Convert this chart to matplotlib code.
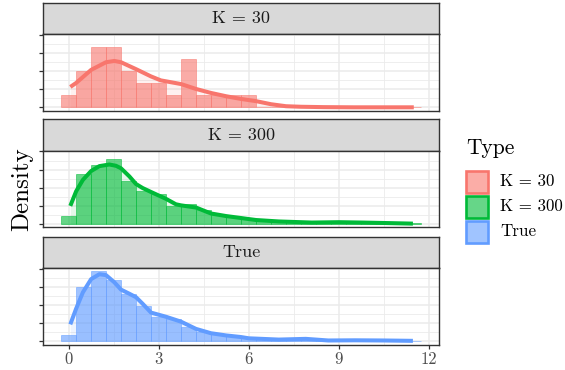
import matplotlib
matplotlib.use('Agg')
import matplotlib.pyplot as plt
from matplotlib.patches import Rectangle
import matplotlib.colors as mcolors

# ---------------- data ----------------
types = ['K = 30', 'K = 300', 'True']
colors = ['#F8766D', '#00BA38', '#619CFF']

bin_centers = [0.0, 0.5, 1.0, 1.5, 2.0, 2.5, 3.0, 3.5, 4.0, 4.5, 5.0, 5.5,
               6.0, 6.5, 7.0, 7.5, 8.0, 8.5, 9.0, 9.5, 10.0, 10.5, 11.0, 11.5]
bin_width = 0.5

hist_k30 = [0.067, 0.200, 0.333, 0.333, 0.200, 0.133, 0.133, 0.067, 0.267, 0.067, 0.067, 0.067,
            0.067, 0, 0, 0, 0, 0, 0, 0, 0, 0, 0, 0]
hist_k300 = [0.044, 0.276, 0.325, 0.357, 0.238, 0.184, 0.166, 0.099, 0.108, 0.079, 0.050, 0.039,
             0.026, 0.017, 0.012, 0.012, 0.008, 0.007, 0.009, 0.007, 0.006, 0.004, 0.003, 0.002]
hist_true = [0.032, 0.298, 0.385, 0.339, 0.258, 0.195, 0.135, 0.122, 0.080, 0.050, 0.039, 0.028,
             0.021, 0.016, 0.011, 0.010, 0.012, 0.006, 0.005, 0.005, 0.005, 0.004, 0.003, 0.002]

dens_k30_x = [0.05, 0.245, 0.745, 1.24, 1.52, 1.74, 2.24, 2.74, 3.07, 3.24, 3.74, 4.24, 4.74,
              5.24, 5.74, 6.24, 6.74, 7.24, 7.74, 8.5, 9.5, 10.5, 11.5]
dens_k30_y = [0.113, 0.135, 0.207, 0.249, 0.256, 0.249, 0.211, 0.171, 0.149, 0.144, 0.129, 0.102,
              0.080, 0.062, 0.047, 0.035, 0.018, 0.007, 0.004, 0.002, 0.001, 0.001, 0.001]

dens_k300_x = [0.05, 0.245, 0.47, 0.745, 1.02, 1.35, 1.57, 1.74, 2.02, 2.24, 2.46, 2.74, 3.24,
               3.57, 3.74, 4.24, 4.74, 5.24, 5.74, 6.24, 7.0, 8.1, 9.0, 9.77, 10.66, 11.47]
dens_k300_y = [0.099, 0.180, 0.243, 0.292, 0.319, 0.328, 0.321, 0.307, 0.262, 0.220, 0.198, 0.176,
               0.138, 0.108, 0.102, 0.090, 0.057, 0.043, 0.032, 0.021, 0.013, 0.007, 0.009, 0.007,
               0.004, 0.001]

dens_true_x = [0.05, 0.245, 0.47, 0.745, 1.02, 1.24, 1.52, 1.74, 2.02, 2.24, 2.46, 2.74, 3.24,
               3.74, 4.24, 4.74, 5.24, 5.74, 6.0, 7.0, 7.9, 8.65, 9.54, 10.5, 11.47]
dens_true_y = [0.093, 0.180, 0.270, 0.343, 0.370, 0.365, 0.325, 0.285, 0.262, 0.243, 0.207, 0.158,
               0.135, 0.108, 0.068, 0.044, 0.032, 0.023, 0.016, 0.009, 0.013, 0.004, 0.005, 0.004,
               0.002]

x_ticks = [0, 3, 6, 9, 12]
x_tick_labels = ['0', '3', '6', '9', '12']
y_ticks = [0.0, 0.1, 0.2, 0.3, 0.4]

hists = [hist_k30, hist_k300, hist_true]
dens = [(dens_k30_x, dens_k30_y), (dens_k300_x, dens_k300_y), (dens_true_x, dens_true_y)]

# ---------------- layout ----------------
plt.rcParams['font.family'] = 'cmr10'
plt.rcParams['axes.formatter.use_mathtext'] = True
plt.rcParams['mathtext.fontset'] = 'cm'

W, H = 565, 370
fig = plt.figure(figsize=(W / 100, H / 100), dpi=100)


def fx(px):
    return px / W


def fy(py):
    return 1 - py / H


left, right = 43.3, 439.3
rows = [(3.0, 34.0, 111.0), (119.3, 150.7, 227.3), (236.7, 268.0, 344.7)]
border = '#333333'

for i, (st, sb, pb) in enumerate(rows):
    # strip
    sax = fig.add_axes([fx(left), fy(sb), (right - left) / W, (sb - st) / H])
    sax.set_facecolor('#D9D9D9')
    sax.set_xticks([])
    sax.set_yticks([])
    for sp in sax.spines.values():
        sp.set_color(border)
        sp.set_linewidth(1.0)
    sax.text(0.5, 0.5, types[i], ha='center', va='center', fontsize=13,
             color='#1A1A1A', transform=sax.transAxes)

    ax = fig.add_axes([fx(left), fy(pb), (right - left) / W, (pb - sb) / H])
    ax.set_facecolor('white')
    ax.set_axisbelow(True)
    col = colors[i]
    ax.bar(bin_centers, hists[i], width=bin_width, color=col, alpha=0.6,
           edgecolor=col, linewidth=0.6, zorder=2)
    dx, dy = dens[i]
    ax.fill_between(dx, dy, 0, color=col, alpha=0.1, lw=0, zorder=3)
    ax.plot(dx, dy, color=col, lw=2.9, solid_capstyle='butt', zorder=4)

    ax.set_xlim(-0.85, 12.35)
    ax.set_ylim(-0.0193, 0.4043)
    ax.set_xticks(x_ticks)
    ax.set_xticks([1.5, 4.5, 7.5, 10.5], minor=True)
    ax.set_yticks(y_ticks)
    ax.set_yticks([0.05, 0.15, 0.25, 0.35], minor=True)
    ax.grid(which='major', color='#EBEBEB', lw=1.1)
    ax.grid(which='minor', color='#EBEBEB', lw=0.6)
    ax.set_yticklabels([])
    ax.tick_params(axis='y', which='major', length=3, width=0.9, color=border)
    ax.tick_params(axis='both', which='minor', length=0)
    if i == 2:
        ax.set_xticklabels(x_tick_labels)
        ax.tick_params(axis='x', which='major', length=3, width=0.9, color=border,
                       labelsize=12, labelcolor='#4D4D4D', pad=2)
    else:
        ax.tick_params(axis='x', which='major', length=0, labelbottom=False)
    for sp in ax.spines.values():
        sp.set_color(border)
        sp.set_linewidth(1.0)

# y label
fig.text(fx(22.5), fy(189), 'Density', rotation=90, ha='center', va='center',
         fontsize=18, color='black')

# legend
fig.text(fx(466.7), fy(148.3), 'Type', ha='left', va='center', fontsize=15.5, color='black')
key_tops = [169.3, 194.3, 219.3]
for i, kt in enumerate(key_tops):
    rgb = mcolors.to_rgb(colors[i])
    light = tuple(0.6 * c + 0.4 for c in rgb)
    rect = Rectangle((fx(465.5), fy(kt + 23.8)), 22.6 / W, 22.6 / H,
                     transform=fig.transFigure, facecolor=light, edgecolor=colors[i],
                     lw=1.9)
    fig.add_artist(rect)
    fig.text(fx(500), fy(kt + 12.4), types[i], ha='left', va='center', fontsize=12.2,
             color='black')

fig.savefig('out.png', dpi=100)
